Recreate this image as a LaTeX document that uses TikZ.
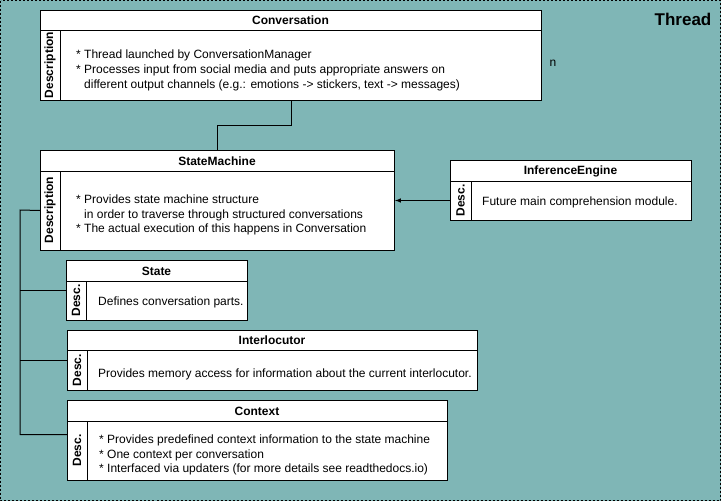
\documentclass[tikz,border=0pt]{standalone}
\usepackage{fontspec}
\setmainfont{Liberation Sans}
\usetikzlibrary{calc}
\definecolor{threadbg}{RGB}{127,182,182}

\tikzset{
    frame/.style={draw, fill=white, line width=1pt, inner sep=0pt, anchor=north west},
    headtxt/.style={font=\bfseries\fontsize{12}{14}\selectfont, inner sep=0pt},
    desctxt/.style={font=\bfseries\fontsize{12}{14}\selectfont, rotate=90, inner sep=0pt},
    bodytxt/.style={font=\fontsize{12}{14.5}\selectfont, align=left, anchor=west, inner sep=0pt},
    link/.style={line width=1pt},
}

\begin{document}
\begin{tikzpicture}[x=1pt, y=-1pt, >=latex]
    \useasboundingbox (0,0) rectangle (721,501);
    % Hintergrund: Thread
    \fill[threadbg] (0,0) rectangle (721,501);
    \draw[line width=1pt, dash pattern=on 2pt off 2pt] (0.5,0.5) rectangle (720.5,500.5);
    \node[font=\bfseries\fontsize{17}{20}\selectfont, inner sep=0pt] (thread) at (683,19) {Thread};
    \node[font=\fontsize{12}{14}\selectfont, inner sep=0pt] (mult) at (553,63) {n};

    % Conversation
    \node[frame, minimum width=501pt, minimum height=90pt] (conv) at (40,10) {};
    \draw[link] (40,30) -- (541,30);
    \draw[link] (60,30) -- (60,100);
    \node[headtxt] (convhead) at (290.5,20.5) {Conversation};
    \node[desctxt] (convdesc) at (50,65) {Description};
    \node[bodytxt, font=\fontsize{12}{15}\selectfont] (convtext) at (76,70) {* Thread launched by ConversationManager\\
        * Processes input from social media and puts appropriate answers on\\
        \hphantom{* }different output channels (e.g.: emotions -> stickers, text -> messages)};

    % StateMachine
    \node[frame, minimum width=354pt, minimum height=100pt] (sm) at (40,150) {};
    \draw[link] (40,171) -- (394,171);
    \draw[link] (60,171) -- (60,250);
    \node[headtxt] (smhead) at (217,161.5) {StateMachine};
    \node[desctxt] (smdesc) at (50,210) {Description};
    \node[bodytxt] (smtext) at (76,215) {* Provides state machine structure\\
        \hphantom{* }in order to traverse through structured conversations\\
        * The actual execution of this happens in Conversation};

    % InferenceEngine
    \node[frame, minimum width=241pt, minimum height=60pt] (ie) at (450,160) {};
    \draw[link] (450,181) -- (691,181);
    \draw[link] (471,181) -- (471,220);
    \node[headtxt] (iehead) at (570.5,171.5) {InferenceEngine};
    \node[desctxt] (iedesc) at (460.5,200.5) {Desc.};
    \node[bodytxt] (ietext) at (482,202) {Future main comprehension module.};

    % State
    \node[frame, minimum width=181pt, minimum height=60pt] (state) at (66,260) {};
    \draw[link] (66,281) -- (247,281);
    \draw[link] (86,281) -- (86,320);
    \node[headtxt] (statehead) at (156.5,271.5) {State};
    \node[desctxt] (statedesc) at (76,300.5) {Desc.};
    \node[bodytxt] (statetext) at (98,302) {Defines conversation parts.};

    % Interlocutor
    \node[frame, minimum width=410pt, minimum height=60pt] (inter) at (67,330) {};
    \draw[link] (67,350) -- (477,350);
    \draw[link] (87,350) -- (87,390);
    \node[headtxt] (interhead) at (272,340.5) {Interlocutor};
    \node[desctxt] (interdesc) at (77,370) {Desc.};
    \node[bodytxt] (intertext) at (98,374) {Provides memory access for information about the current interlocutor.};

    % Context
    \node[frame, minimum width=380pt, minimum height=80pt] (ctx) at (67,400) {};
    \draw[link] (67,421) -- (447,421);
    \draw[link] (87,421) -- (87,480);
    \node[headtxt] (ctxhead) at (257,411.5) {Context};
    \node[desctxt] (ctxdesc) at (77,450.5) {Desc.};
    \node[bodytxt] (ctxtext) at (99,455) {* Provides predefined context information to the state machine\\
        * One context per conversation\\
        * Interfaced via updaters (for more details see readthedocs.io)};

    % Verbindungen
    \draw[link] (conv.south) |- ($(conv.south)!.5!(sm.north)$) -| (sm.north);
    \draw[link, ->] (ie.west |- iedesc) -- (sm.east |- iedesc);
    \coordinate (trunk) at (20,210);
    \draw[link] ([yshift=-10pt]sm.west) -- (trunk) |- ([yshift=6pt]ctx.west);
    \draw[link] (trunk |- state.west) -- (state.west);
    \draw[link] (trunk |- inter.west) -- (inter.west);
\end{tikzpicture}
\end{document}
